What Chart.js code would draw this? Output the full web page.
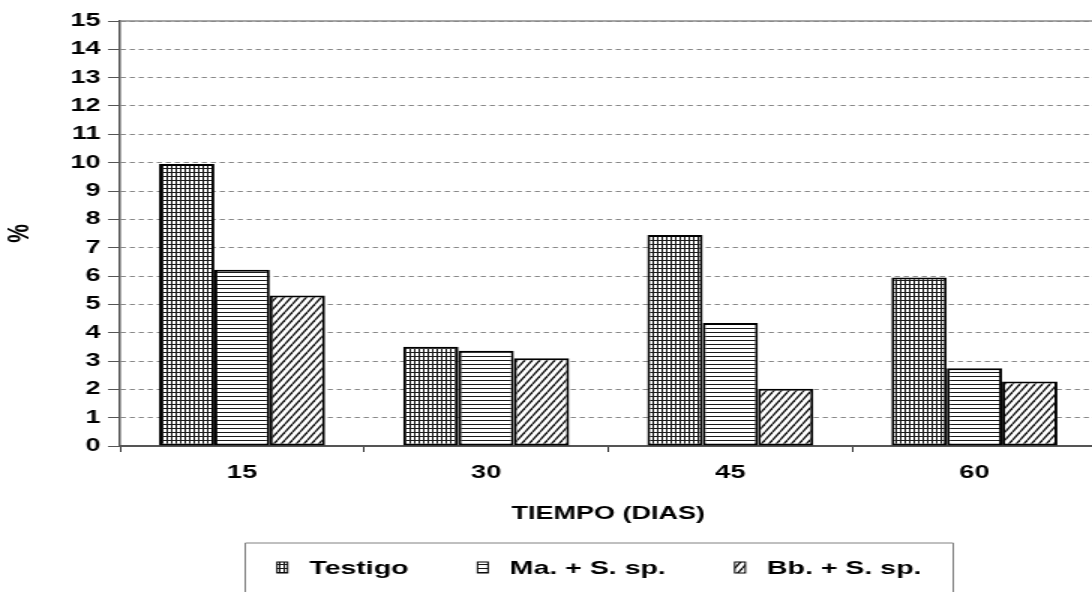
<!DOCTYPE html>
<html>
<head>
<meta charset="utf-8">
<script src="https://cdn.jsdelivr.net/npm/chart.js@4.4.1/dist/chart.umd.min.js"></script>
<style>
  html, body { margin: 0; padding: 0; background: #fff; overflow: hidden; }
  #wrap { width: 1092px; height: 592px; overflow: hidden; position: relative; }
  #stage { position: absolute; left: 0; top: 0; transform: scaleX(1.5); transform-origin: 0 0; }
</style>
</head>
<body>
<div id="wrap"><div id="stage"><canvas id="c" width="732" height="592"></canvas></div></div>
<script>
// ---- data ----
const categories = ['15', '30', '45', '60'];
const seriesLabels = ['Testigo', 'Ma. + S. sp.', 'Bb. + S. sp.'];
const testigo = [9.95, 3.5, 7.45, 5.95];
const maSsp = [6.22, 3.36, 4.34, 2.74];
const bbSsp = [5.31, 3.1, 2.02, 2.28];
const yMin = 0, yMax = 15, yStep = 1;
const xTitle = 'TIEMPO (DIAS)';
const yTitle = '%';

// ---- patterns ----
function makePattern(w, h, draw) {
  const c = document.createElement('canvas');
  c.width = w; c.height = h;
  const g = c.getContext('2d');
  g.fillStyle = '#ffffff';
  g.fillRect(0, 0, w, h);
  draw(g, w, h);
  return document.getElementById('c').getContext('2d').createPattern(c, 'repeat');
}
const gridPat = makePattern(3, 4, (g, w, h) => {
  g.fillStyle = '#1a1a1a';
  g.fillRect(0, 0, 1, h);
  g.fillRect(0, 0, w, 1);
});
const hLinePat = makePattern(4, 4, (g, w, h) => {
  g.fillStyle = '#1a1a1a';
  g.fillRect(0, 0, w, 1);
});
const diagPat = makePattern(5, 8, (g, w, h) => {
  g.strokeStyle = '#111';
  g.lineWidth = 1.4;
  for (const dx of [-w, 0, w]) {
    g.beginPath();
    g.moveTo(dx, h);
    g.lineTo(dx + w, 0);
    g.stroke();
  }
});
const patterns = [gridPat, hLinePat, diagPat];
const seriesData = [testigo, maSsp, bbSsp];

const FONT = "'Liberation Sans', Arial, sans-serif";

// ---- custom legend + frame plugin ----
const boxLegend = {
  id: 'boxLegend',
  afterDraw(chart) {
    const ctx = chart.ctx;
    const ca = chart.chartArea;
    // top frame line of plot area
    ctx.save();
    ctx.strokeStyle = '#8a8a8a';
    ctx.lineWidth = 1.5;
    ctx.beginPath();
    ctx.moveTo(ca.left, ca.top);
    ctx.lineTo(ca.right + 2, ca.top);
    ctx.stroke();
    ctx.restore();

    const o = chart.options.plugins.boxLegend;
    const cx = (ca.left + ca.right) / 2 + o.centerShift;
    const left = cx - o.width / 2, right = cx + o.width / 2;
    ctx.save();
    ctx.strokeStyle = '#808080';
    ctx.lineWidth = 1;
    ctx.beginPath();
    ctx.moveTo(left, chart.height + 5);
    ctx.lineTo(left, o.top);
    ctx.lineTo(right, o.top);
    ctx.lineTo(right, chart.height + 5);
    ctx.stroke();

    ctx.font = 'bold ' + o.fontSize + 'px ' + FONT;
    ctx.textBaseline = 'alphabetic';
    const items = chart.data.datasets.map(d => ({ label: d.label, fill: d.backgroundColor, w: ctx.measureText(d.label).width }));
    let total = 0;
    items.forEach((it, i) => { total += o.iconW + o.iconGap + it.w + (i < items.length - 1 ? o.itemGap : 0); });
    let x = cx - total / 2;
    items.forEach(it => {
      ctx.fillStyle = it.fill;
      ctx.fillRect(x, o.iconTop, o.iconW, o.iconH);
      ctx.strokeStyle = '#000';
      ctx.lineWidth = 1;
      ctx.strokeRect(x, o.iconTop, o.iconW, o.iconH);
      x += o.iconW + o.iconGap;
      ctx.fillStyle = '#000';
      ctx.fillText(it.label, x, o.baseline);
      x += it.w + o.itemGap;
    });
    ctx.restore();
  }
};

new Chart(document.getElementById('c'), {
  type: 'bar',
  data: {
    labels: categories,
    datasets: seriesLabels.map((lab, i) => ({
      label: lab,
      data: seriesData[i],
      backgroundColor: patterns[i],
      borderColor: '#000',
      borderWidth: 2,
      borderSkipped: false,
      categoryPercentage: 0.68,
      barPercentage: 1.0
    }))
  },
  plugins: [boxLegend],
  options: {
    responsive: false,
    animation: false,
    devicePixelRatio: 1,
    layout: { padding: { top: 21, right: 1, left: 0, bottom: 0 } },
    plugins: {
      legend: { display: false },
      tooltip: { enabled: false },
      boxLegend: { width: 472, centerShift: -6, top: 543, fontSize: 19, iconW: 7, iconH: 11, iconTop: 562, iconGap: 14.5, itemGap: 46, baseline: 574 }
    },
    scales: {
      x: {
        afterFit(scale) { scale.height = 146; },
        grid: { display: true, drawOnChartArea: false, offset: true, tickLength: 6, tickColor: '#333', tickWidth: 1 },
        border: { display: true, color: '#555', width: 2 },
        ticks: { color: '#000', font: { family: FONT, size: 18, weight: 'bold' }, padding: 10 },
        title: { display: true, text: xTitle, color: '#000', font: { family: FONT, size: 18, weight: 'bold' }, padding: { top: 0, bottom: 67 } }
      },
      y: {
        min: yMin, max: yMax,
        afterFit(scale) { scale.width = 80; },
        grid: { display: true, color: '#888', lineWidth: 1, tickLength: 8, tickColor: '#555', tickWidth: 1 },
        border: { display: true, color: '#555', width: 1.5, dash: [3.4, 2.6] },
        ticks: { stepSize: yStep, color: '#000', font: { family: FONT, size: 18, weight: 'bold' }, padding: 5 },
        title: { display: true, text: yTitle, color: '#000', font: { family: FONT, size: 21, weight: 'bold' }, padding: { top: 1, bottom: 0 } }
      }
    }
  }
});
</script>
</body>
</html>
